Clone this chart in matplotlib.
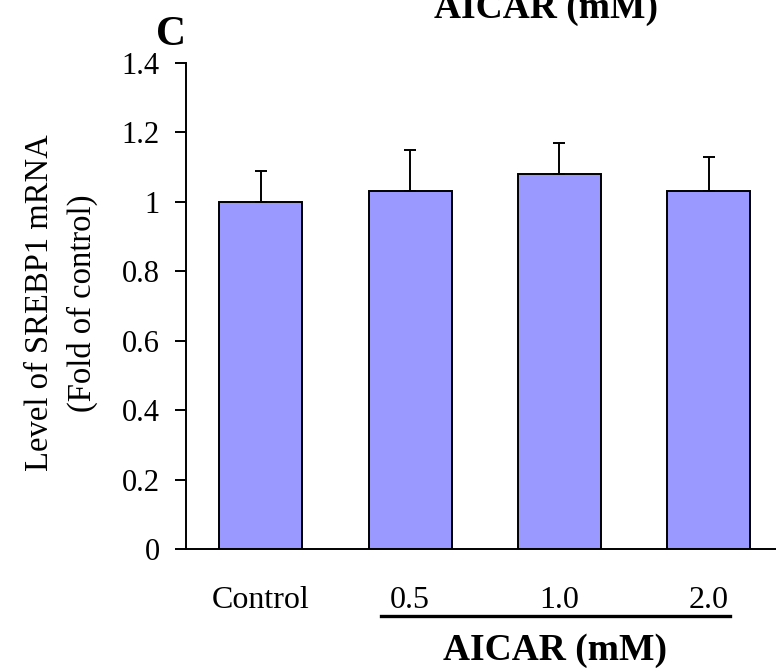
import numpy as np
import matplotlib
matplotlib.use("Agg")
import matplotlib.pyplot as plt

plt.rcParams["font.family"] = ["Liberation Serif", "DejaVu Serif"]

# data
groups = ["Control", "0.5", "1.0", "2.0"]
values = [1.00, 1.03, 1.08, 1.03]
errors = [0.09, 0.12, 0.09, 0.10]
yticks = [0, 0.2, 0.4, 0.6, 0.8, 1.0, 1.2, 1.4]
ytick_labels = ["0", "0.2", "0.4", "0.6", "0.8", "1", "1.2", "1.4"]

BAR = "#9999ff"
W, H = 776, 670
LW = 1.4

fig = plt.figure(figsize=(W / 100, H / 100), dpi=100, facecolor="white")
ax = fig.add_axes([186 / W, 1 - 549 / H, 1 - 186 / W, (549 - 63) / H])

x = np.arange(len(groups))
ax.bar(x, values, width=0.556, color=BAR, edgecolor="black", linewidth=LW, zorder=2)
ax.errorbar(x, values, yerr=[np.zeros(len(values)), errors], fmt="none",
            ecolor="black", elinewidth=LW, capsize=4.5, capthick=LW, zorder=3)

ax.set_xlim(-0.5, 3.45)
ax.set_ylim(0, 1.4)
ax.set_yticks(yticks)
ax.set_yticklabels(ytick_labels, fontsize=22)
ax.tick_params(axis="y", direction="out", length=8, width=LW, pad=11)
ax.set_xticks(x)
ax.set_xticklabels(groups, fontsize=23)
ax.tick_params(axis="x", length=0, pad=27)

for side in ["top", "right"]:
    ax.spines[side].set_visible(False)
for side in ["left", "bottom"]:
    ax.spines[side].set_linewidth(LW)

# underline beneath the AICAR doses
trans = ax.get_xaxis_transform()
ax.plot([x[1] - 0.195, x[3] + 0.14], [-0.137, -0.137], transform=trans,
        color="black", linewidth=2.4, clip_on=False)
ax.text(x[1:].mean() - 0.03, -0.208, "AICAR (mM)", transform=trans,
        ha="center", va="center", fontsize=27, fontweight="bold")

fig.text(61 / W, 1 - 303 / H, "Level of SREBP1 mRNA\n(Fold of control)",
         rotation=90, ha="center", va="center", fontsize=23.5,
         multialignment="center", linespacing=1.5)

# panel letter and the cropped heading at the top
fig.text(171 / W, 1 - 45 / H, "C", ha="center", va="baseline",
         fontsize=30, fontweight="bold")
fig.text(546 / W, 1 - 18 / H, "AICAR (mM)", ha="center", va="baseline",
         fontsize=27, fontweight="bold")

fig.savefig("out.png", dpi=100, facecolor="white")
